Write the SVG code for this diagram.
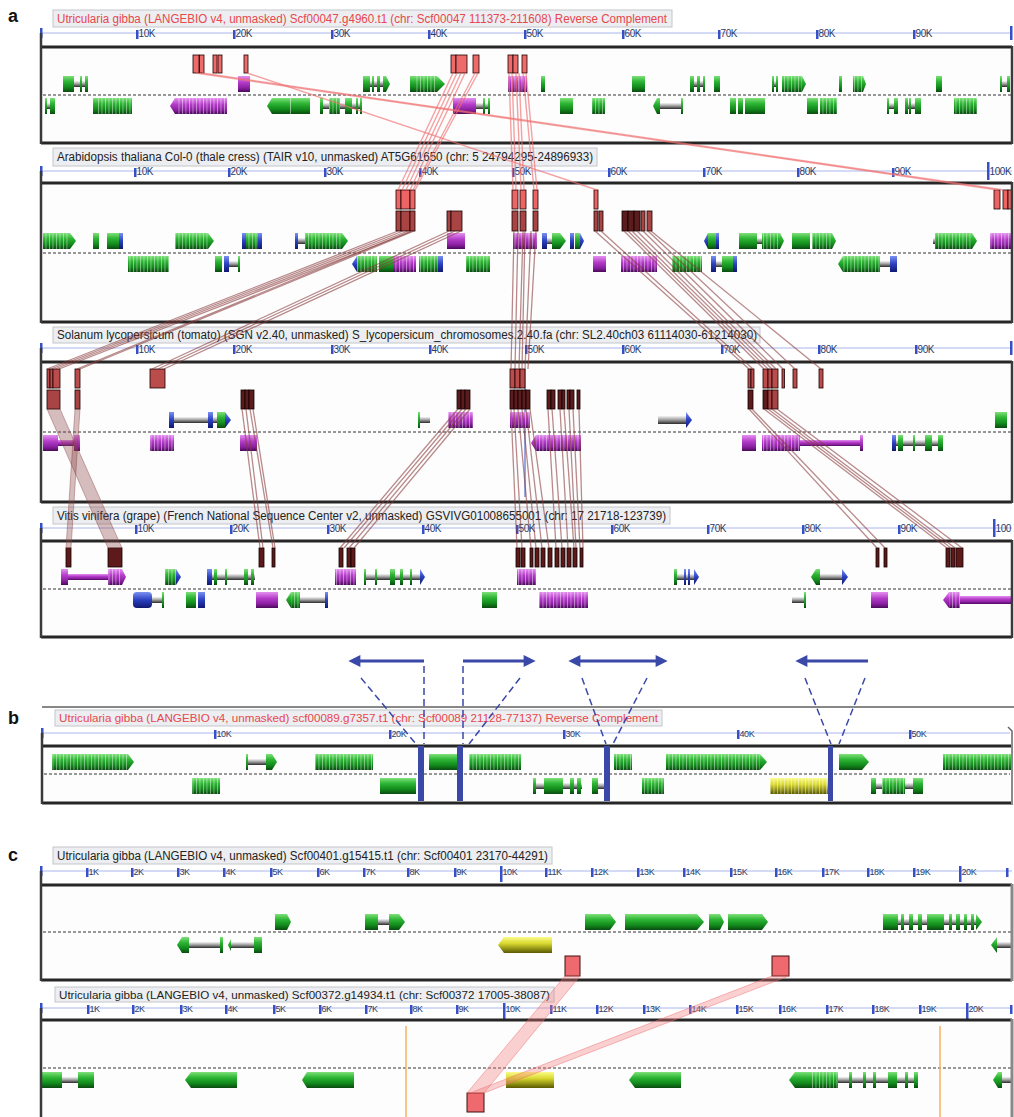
<svg xmlns="http://www.w3.org/2000/svg" width="1014" height="1117" viewBox="0 0 1014 1117">
<style>
text{font-family:"Liberation Sans",Arial,sans-serif}
.pl{font-size:18px;font-weight:bold;fill:#111}
.lbx{fill:#eceef1;stroke:#c4c6ca;stroke-width:1}
.tt{font-size:12px;fill:#222}
.red{fill:#e8474c}
.tl{font-size:10px;fill:#2b3a66;letter-spacing:-0.4px}
.tls{font-size:9px;fill:#2b3a66;letter-spacing:-0.4px}
.rl{stroke:#aab6ee;stroke-width:1}
.tk{fill:#3550c8}
.bg{fill:#fdfdfe}
.dash{stroke:#333;stroke-width:1;stroke-dasharray:3 2}
.bt{stroke:#262626;stroke-width:3}
.bs{stroke:#3a3a3a;stroke-width:2.5}
.e{fill:url(#gG)}
.p{fill:url(#gP)}
.y{fill:url(#gY)}
.b{fill:url(#gB)}
.i{fill:url(#gI)}
.s{fill:url(#sp)}
.h1{fill:#ee6b6b;stroke:#1a0000;stroke-width:.8}
.h2{fill:#ec6464;stroke:#1a0000;stroke-width:.8}
.h3{fill:#a84444;stroke:#1a0000;stroke-width:.8}
.h4{fill:#bb4c4c;stroke:#1a0000;stroke-width:.8}
.h5{fill:#5a1c1c;stroke:#100;stroke-width:.8}
.h6{fill:#5e1a1a;stroke:#100;stroke-width:.8}
.hc{fill:#ef6a6f;stroke:#401010;stroke-width:1}
.pk{stroke:#f07070;stroke-opacity:.65;stroke-width:1.4;fill:none}
.mr{stroke:#8a3c3c;stroke-opacity:.6;stroke-width:1.3;fill:none}
.band{fill:#8a4545;fill-opacity:.35;stroke:#8a3c3c;stroke-opacity:.5;stroke-width:.8}
.pband{fill:#f07878;fill-opacity:.35;stroke:#f07070;stroke-opacity:.6;stroke-width:.8}
.bl{stroke:#3a48a8;stroke-width:3;fill:none}
.bd{stroke:#3a48a8;stroke-width:1.5;stroke-dasharray:7 4;fill:none}
.bar{fill:#3a48a8}
.or{stroke:#f8b060;stroke-width:1.5}
</style>
<defs>
<linearGradient id="gG" x1="0" y1="0" x2="0" y2="1"><stop offset="0" stop-color="#7fe07a"/><stop offset=".35" stop-color="#2db534"/><stop offset=".7" stop-color="#128a1c"/><stop offset="1" stop-color="#0a4a10"/></linearGradient>
<linearGradient id="gP" x1="0" y1="0" x2="0" y2="1"><stop offset="0" stop-color="#e490f0"/><stop offset=".4" stop-color="#b43cc8"/><stop offset=".75" stop-color="#8a1fa0"/><stop offset="1" stop-color="#4a0a5a"/></linearGradient>
<linearGradient id="gY" x1="0" y1="0" x2="0" y2="1"><stop offset="0" stop-color="#fbfb8a"/><stop offset=".4" stop-color="#d8d830"/><stop offset="1" stop-color="#5a5a00"/></linearGradient>
<linearGradient id="gB" x1="0" y1="0" x2="0" y2="1"><stop offset="0" stop-color="#7a90f0"/><stop offset=".5" stop-color="#2a40c0"/><stop offset="1" stop-color="#101870"/></linearGradient>
<linearGradient id="gI" x1="0" y1="0" x2="0" y2="1"><stop offset="0" stop-color="#f4f4f4"/><stop offset=".5" stop-color="#9a9a9a"/><stop offset="1" stop-color="#2a2a2a"/></linearGradient>
<pattern id="sp" width="3.5" height="20" patternUnits="userSpaceOnUse"><rect width="0.9" height="20" fill="#ffffff" fill-opacity=".45"/></pattern>
<marker id="ah" viewBox="0 0 10 10" refX="2" refY="5" markerWidth="5" markerHeight="4" orient="auto-start-reverse"><path d="M0,0 L10,5 L0,10 z" fill="#3a48a8"/></marker>
</defs>
<rect width="1014" height="1117" fill="#fff"/>
<text class="pl" x="8" y="22">a</text>
<text class="pl" x="8" y="724">b</text>
<text class="pl" x="8" y="861">c</text>

<g id="track-a1">
<rect class="lbx" x="53" y="10" width="619" height="17"/>
<text class="tt red" x="57" y="23" textLength="610" lengthAdjust="spacingAndGlyphs">Utricularia gibba (LANGEBIO v4, unmasked) Scf00047.g4960.t1 (chr: Scf00047 111373-211608) Reverse Complement</text>
<line class="rl" x1="41" y1="33" x2="1012" y2="33"/>
<rect class="tk" x="40" y="28" width="2.5" height="10"/><rect class="tk" x="1010" y="26" width="2.5" height="14"/>
<rect class="tk" x="136" y="30" width="2.5" height="9"/><text class="tl" x="138.5" y="37">10K</text>
<rect class="tk" x="233" y="30" width="2.5" height="9"/><text class="tl" x="235.5" y="37">20K</text>
<rect class="tk" x="331" y="30" width="2.5" height="9"/><text class="tl" x="333.5" y="37">30K</text>
<rect class="tk" x="428" y="30" width="2.5" height="9"/><text class="tl" x="430.5" y="37">40K</text>
<rect class="tk" x="524" y="30" width="2.5" height="9"/><text class="tl" x="526.5" y="37">50K</text>
<rect class="tk" x="622" y="30" width="2.5" height="9"/><text class="tl" x="624.5" y="37">60K</text>
<rect class="tk" x="718" y="30" width="2.5" height="9"/><text class="tl" x="720.5" y="37">70K</text>
<rect class="tk" x="816" y="30" width="2.5" height="9"/><text class="tl" x="818.5" y="37">80K</text>
<rect class="tk" x="913" y="30" width="2.5" height="9"/><text class="tl" x="915.5" y="37">90K</text>
<rect class="bg" x="41" y="47" width="971" height="96"/>
<line class="dash" x1="43" y1="95" x2="1011" y2="95"/>
<rect class="i" x="63" y="81" width="25" height="6"/><rect class="e" x="63" y="76" width="11" height="16"/><rect class="e" x="80" y="76" width="2" height="16"/><rect class="e" x="85" y="76" width="3" height="16"/>
<rect class="p" x="238" y="76" width="12" height="16"/>
<rect class="i" x="363" y="81" width="25" height="6"/><rect class="e" x="363" y="76" width="7" height="16"/><rect class="e" x="372" y="76" width="2" height="16"/><rect class="e" x="377" y="76" width="3" height="16"/><rect class="e" x="383" y="76" width="3" height="16"/><polygon class="e" points="386,76 390,84 386,92"/>
<rect class="e" x="410" y="76" width="27" height="16"/><rect class="s" x="416" y="76" width="21" height="16"/><polygon class="e" points="437,76 445,84 437,92"/>
<rect class="p" x="508" y="76" width="19" height="16"/><rect class="s" x="508" y="76" width="19" height="16"/>
<rect class="e" x="541" y="76" width="4" height="16"/>
<rect class="e" x="632" y="76" width="13" height="16"/>
<rect class="i" x="690" y="81" width="15" height="6"/><rect class="e" x="690" y="76" width="4" height="16"/><rect class="e" x="697" y="76" width="3" height="16"/><rect class="e" x="703" y="76" width="2" height="16"/>
<rect class="e" x="714" y="76" width="6" height="16"/>
<rect class="i" x="772" y="81" width="6" height="6"/><rect class="e" x="772" y="76" width="2" height="16"/><rect class="e" x="776" y="76" width="2" height="16"/>
<rect class="e" x="782" y="76" width="20" height="16"/><rect class="s" x="782" y="76" width="20" height="16"/><polygon class="e" points="802,76 806,84 802,92"/>
<rect class="e" x="839" y="76" width="3" height="16"/>
<rect class="e" x="853" y="76" width="10" height="16"/><rect class="s" x="853" y="76" width="10" height="16"/><polygon class="e" points="863,76 866,84 863,92"/>
<rect class="e" x="936" y="76" width="6" height="16"/>
<rect class="i" x="1000" y="81" width="10" height="6"/><rect class="e" x="1000" y="76" width="2" height="16"/><rect class="e" x="1007" y="76" width="3" height="16"/>
<rect class="i" x="45" y="103" width="10" height="6"/><rect class="e" x="45" y="98" width="2" height="16"/><rect class="e" x="50" y="98" width="5" height="16"/>
<rect class="e" x="93" y="98" width="39" height="16"/><rect class="s" x="97" y="98" width="35" height="16"/>
<polygon class="p" points="170,106 175,98 175,114"/><rect class="p" x="175" y="98" width="52" height="16"/><rect class="s" x="178" y="98" width="49" height="16"/>
<polygon class="e" points="267,106 272,98 272,114"/><rect class="e" x="272" y="98" width="38" height="16"/><rect x="290" y="98" width="1" height="16" fill="#fff" fill-opacity=".5"/>
<rect class="i" x="320" y="103" width="42" height="6"/><rect class="e" x="320" y="98" width="3" height="16"/><rect class="e" x="329" y="98" width="11" height="16"/><rect class="s" x="329" y="98" width="11" height="16"/><rect class="e" x="345" y="98" width="7" height="16"/><rect class="e" x="356" y="98" width="2" height="16"/><rect class="e" x="360" y="98" width="2" height="16"/>
<rect class="p" x="453" y="98" width="23" height="16"/><rect class="i" x="476" y="103" width="14" height="6"/><rect class="e" x="483" y="98" width="2" height="16"/><rect class="e" x="488" y="98" width="2" height="16"/>
<rect class="e" x="560" y="98" width="13" height="16"/>
<rect class="e" x="592" y="98" width="13" height="16"/><rect class="s" x="592" y="98" width="13" height="16"/>
<rect class="i" x="656" y="103" width="27" height="6"/><polygon class="e" points="653,106 657,98 657,114"/><rect class="e" x="657" y="98" width="3" height="16"/><rect class="e" x="681" y="98" width="2" height="16"/>
<rect class="e" x="730" y="98" width="6" height="16"/><rect class="e" x="738" y="98" width="5" height="16"/>
<rect class="e" x="745" y="98" width="20" height="16"/>
<rect class="e" x="807" y="98" width="11" height="16"/><rect class="e" x="820" y="98" width="17" height="16"/><rect class="s" x="820" y="98" width="17" height="16"/>
<rect class="i" x="887" y="103" width="11" height="6"/><rect class="e" x="887" y="98" width="2" height="16"/><rect class="e" x="894" y="98" width="4" height="16"/>
<rect class="i" x="905" y="103" width="16" height="6"/><rect class="e" x="905" y="98" width="3" height="16"/><rect class="e" x="909" y="98" width="2" height="16"/><rect class="e" x="915" y="98" width="6" height="16"/>
<rect class="e" x="954" y="98" width="23" height="16"/><rect class="s" x="954" y="98" width="23" height="16"/>
<rect class="h1" x="193" y="55" width="6" height="18"/><rect class="h1" x="199.5" y="55" width="4.5" height="18"/><rect class="h1" x="213" y="55" width="4" height="18"/><rect class="h1" x="218" y="55" width="4" height="18"/><rect class="h1" x="244" y="55" width="4" height="18"/>
<rect class="h1" x="451" y="55" width="5" height="18"/><rect class="h1" x="456" y="55" width="11" height="18"/><rect class="h1" x="473" y="55" width="6" height="18"/>
<rect class="h1" x="508" y="55" width="5" height="18"/><rect class="h1" x="513" y="55" width="5" height="18"/><rect class="h1" x="522" y="55" width="5" height="18"/>
<line class="bt" x1="41" y1="47" x2="1012" y2="47"/><line class="bt" x1="41" y1="143" x2="1012" y2="143"/>
<line class="bs" x1="41" y1="33" x2="41" y2="144"/><line class="bs" x1="1012" y1="46" x2="1012" y2="144"/>
</g>

<g id="track-a2">
<rect class="lbx" x="53" y="148" width="544" height="18"/>
<text class="tt" x="57" y="161" textLength="536" lengthAdjust="spacingAndGlyphs">Arabidopsis thaliana Col-0 (thale cress) (TAIR v10, unmasked) AT5G61650 (chr: 5 24794295-24896933)</text>
<line class="rl" x1="41" y1="171" x2="1012" y2="171"/>
<rect class="tk" x="40" y="166" width="2.5" height="10"/>
<rect class="tk" x="134" y="168" width="2.5" height="9"/><text class="tl" x="136.5" y="175">10K</text>
<rect class="tk" x="228" y="168" width="2.5" height="9"/><text class="tl" x="230.5" y="175">20K</text>
<rect class="tk" x="324" y="168" width="2.5" height="9"/><text class="tl" x="326.5" y="175">30K</text>
<rect class="tk" x="419" y="168" width="2.5" height="9"/><text class="tl" x="421.5" y="175">40K</text>
<rect class="tk" x="512" y="168" width="2.5" height="9"/><text class="tl" x="514.5" y="175">50K</text>
<rect class="tk" x="608" y="168" width="2.5" height="9"/><text class="tl" x="610.5" y="175">60K</text>
<rect class="tk" x="703" y="168" width="2.5" height="9"/><text class="tl" x="705.5" y="175">70K</text>
<rect class="tk" x="797" y="168" width="2.5" height="9"/><text class="tl" x="799.5" y="175">80K</text>
<rect class="tk" x="892" y="168" width="2.5" height="9"/><text class="tl" x="894.5" y="175">90K</text>
<rect class="tk" x="987" y="162" width="2.5" height="18"/><text class="tl" x="989.5" y="175">100K</text>
<rect class="bg" x="41" y="183" width="971" height="139"/>
<line class="dash" x1="43" y1="253" x2="1011" y2="253"/>
<rect class="e" x="43" y="233" width="27" height="16"/><rect class="s" x="43" y="233" width="27" height="16"/><polygon class="e" points="70,233 76,241 70,249"/>
<rect class="e" x="93" y="233" width="6" height="16"/>
<rect class="e" x="107" y="233" width="12" height="16"/><rect class="b" x="119" y="233" width="4" height="16"/>
<rect class="e" x="175" y="233" width="33" height="16"/><rect class="s" x="175" y="233" width="33" height="16"/><polygon class="e" points="208,233 214,241 208,249"/>
<rect class="b" x="242" y="233" width="4" height="16"/><rect class="e" x="246" y="233" width="12" height="16"/><rect class="s" x="246" y="233" width="12" height="16"/><rect class="b" x="258" y="233" width="4" height="16"/>
<rect class="b" x="295" y="233" width="3" height="16"/><rect class="i" x="298" y="238" width="8" height="6"/><rect class="e" x="305" y="233" width="37" height="16"/><rect class="s" x="305" y="233" width="37" height="16"/><polygon class="e" points="342,233 348,241 342,249"/>
<rect class="p" x="447" y="233" width="18" height="16"/>
<rect class="p" x="513" y="233" width="24" height="16"/><rect class="s" x="513" y="233" width="24" height="16"/>
<rect class="i" x="542" y="238" width="20" height="6"/><rect class="b" x="542" y="233" width="5" height="16"/><rect class="e" x="552" y="233" width="8" height="16"/><polygon class="e" points="560,233 566,241 560,249"/>
<rect class="b" x="570" y="233" width="4" height="16"/><rect class="e" x="575" y="233" width="5" height="16"/><polygon class="b" points="580,233 584,241 580,249"/>
<polygon class="b" points="704,241 708,233 708,249"/><rect class="e" x="708" y="233" width="8" height="16"/><rect class="b" x="716" y="233" width="3" height="16"/>
<rect class="e" x="739" y="233" width="18" height="16"/><rect class="i" x="757" y="238" width="24" height="6"/><rect class="e" x="762" y="233" width="18" height="16"/><rect class="s" x="762" y="233" width="18" height="16"/><polygon class="e" points="780,233 784,241 780,249"/>
<rect class="e" x="792" y="233" width="18" height="16"/><rect class="e" x="812" y="233" width="20" height="16"/><rect class="s" x="812" y="233" width="20" height="16"/><polygon class="e" points="832,233 836,241 832,249"/>
<rect class="i" x="933" y="238" width="40" height="6"/><rect class="e" x="935" y="233" width="37" height="16"/><rect class="s" x="935" y="233" width="37" height="16"/><polygon class="e" points="972,233 977,241 972,249"/>
<rect class="p" x="990" y="233" width="22" height="16"/><rect class="s" x="990" y="233" width="22" height="16"/>
<rect class="e" x="128" y="256" width="41" height="16"/><rect class="s" x="128" y="256" width="41" height="16"/>
<rect class="e" x="215" y="256" width="7" height="16"/><rect class="b" x="224" y="256" width="5" height="16"/><rect class="i" x="229" y="261" width="11" height="6"/><rect class="e" x="238" y="256" width="2" height="16"/>
<polygon class="b" points="352,264 357,256 357,272"/><rect class="e" x="357" y="256" width="20" height="16"/><rect class="s" x="357" y="256" width="20" height="16"/>
<rect class="e" x="379" y="256" width="14" height="16"/>
<rect class="p" x="393" y="256" width="23" height="16"/><rect class="s" x="393" y="256" width="23" height="16"/>
<rect class="e" x="419" y="256" width="19" height="16"/><rect class="s" x="419" y="256" width="19" height="16"/><rect class="b" x="438" y="256" width="5" height="16"/>
<rect class="e" x="466" y="256" width="24" height="16"/><rect class="s" x="466" y="256" width="24" height="16"/>
<rect class="p" x="593" y="256" width="13" height="16"/>
<rect class="p" x="621" y="256" width="36" height="16"/><rect class="s" x="621" y="256" width="36" height="16"/>
<rect class="e" x="672" y="256" width="30" height="16"/><rect class="s" x="672" y="256" width="30" height="16"/>
<rect class="b" x="711" y="256" width="5" height="16"/><rect class="i" x="716" y="261" width="6" height="6"/><rect class="e" x="722" y="256" width="11" height="16"/><rect class="b" x="733" y="256" width="4" height="16"/>
<polygon class="e" points="838,264 843,256 843,272"/><rect class="e" x="843" y="256" width="37" height="16"/><rect class="s" x="843" y="256" width="37" height="16"/><rect class="i" x="880" y="261" width="12" height="6"/><rect class="b" x="890" y="256" width="7" height="16"/>
<rect class="h2" x="396" y="190" width="5" height="19"/><rect class="h2" x="401" y="190" width="9" height="19"/><rect class="h2" x="410" y="190" width="5" height="19"/>
<rect class="h2" x="512" y="190" width="6" height="19"/><rect class="h2" x="520" y="190" width="6" height="19"/><rect class="h2" x="533" y="190" width="5" height="19"/>
<rect class="h2" x="594" y="190" width="4" height="19"/>
<rect class="h2" x="994" y="190" width="6" height="19"/><rect class="h2" x="1003" y="190" width="5" height="19"/><rect class="h2" x="1008" y="190" width="4" height="19"/>
<rect class="h3" x="396" y="211" width="5" height="20"/><rect class="h3" x="401" y="211" width="9" height="20"/><rect class="h3" x="410" y="211" width="5" height="20"/>
<rect class="h3" x="447" y="211" width="4" height="20"/><rect class="h3" x="451" y="211" width="11" height="20"/>
<rect class="h3" x="512" y="211" width="6" height="20"/><rect class="h3" x="520" y="211" width="6" height="20"/><rect class="h3" x="533" y="211" width="5" height="20"/>
<rect class="h3" x="594" y="211" width="4" height="20"/><rect class="h3" x="599" y="211" width="4" height="20"/>
<rect class="h5" x="622" y="211" width="6" height="20"/><rect class="h5" x="628" y="211" width="6" height="20"/><rect class="h5" x="634" y="211" width="6" height="20"/><rect class="h3" x="641" y="211" width="4" height="20"/><rect class="h3" x="647" y="211" width="5" height="20"/>
<line class="bt" x1="41" y1="183" x2="1012" y2="183"/><line class="bt" x1="41" y1="322" x2="1012" y2="322"/>
<line class="bs" x1="41" y1="171" x2="41" y2="323"/><line class="bs" x1="1012" y1="182" x2="1012" y2="323"/>
</g>

<g id="track-a3">
<rect class="lbx" x="53" y="327" width="707" height="16"/>
<text class="tt" x="57" y="339" textLength="700" lengthAdjust="spacingAndGlyphs">Solanum lycopersicum (tomato) (SGN v2.40, unmasked) S_lycopersicum_chromosomes.2.40.fa (chr: SL2.40ch03 61114030-61214030)</text>
<line class="rl" x1="41" y1="348" x2="1012" y2="348"/>
<rect class="tk" x="40" y="343" width="2.5" height="10"/><rect class="tk" x="1010" y="341" width="2.5" height="14"/>
<rect class="tk" x="136" y="345" width="2.5" height="9"/><text class="tl" x="138.5" y="353">10K</text>
<rect class="tk" x="233" y="345" width="2.5" height="9"/><text class="tl" x="235.5" y="353">20K</text>
<rect class="tk" x="331" y="345" width="2.5" height="9"/><text class="tl" x="333.5" y="353">30K</text>
<rect class="tk" x="429" y="345" width="2.5" height="9"/><text class="tl" x="431.5" y="353">40K</text>
<rect class="tk" x="525" y="345" width="2.5" height="9"/><text class="tl" x="527.5" y="353">50K</text>
<rect class="tk" x="622" y="345" width="2.5" height="9"/><text class="tl" x="624.5" y="353">60K</text>
<rect class="tk" x="721" y="345" width="2.5" height="9"/><text class="tl" x="723.5" y="353">70K</text>
<rect class="tk" x="818" y="345" width="2.5" height="9"/><text class="tl" x="820.5" y="353">80K</text>
<rect class="tk" x="915" y="345" width="2.5" height="9"/><text class="tl" x="917.5" y="353">90K</text>
<rect class="bg" x="41" y="362" width="971" height="140"/>
<line class="dash" x1="43" y1="432" x2="1011" y2="432"/>
<line x1="525" y1="369" x2="525" y2="497" stroke="#3550c8" stroke-width="1"/>
<rect class="i" x="172" y="417" width="46" height="6"/><rect class="b" x="169" y="412" width="5" height="16"/><rect class="b" x="208" y="412" width="5" height="16"/><rect class="e" x="217" y="412" width="8" height="16"/><polygon class="b" points="225,412 231,420 225,428"/>
<rect class="e" x="418" y="412" width="2" height="16"/><rect class="i" x="420" y="417" width="10" height="6"/>
<rect class="p" x="448" y="412" width="25" height="16"/><rect class="s" x="448" y="412" width="25" height="16"/>
<rect class="p" x="510" y="412" width="20" height="16"/><rect class="s" x="510" y="412" width="20" height="16"/>
<rect class="i" x="658" y="416" width="28" height="8"/><polygon class="b" points="686,412 692,420 686,428"/>
<rect class="e" x="995" y="412" width="12" height="16"/>
<rect class="p" x="43" y="435" width="15" height="16"/><rect class="p" x="58" y="440" width="17" height="6"/><rect class="p" x="74" y="435" width="6" height="16"/>
<rect class="p" x="150" y="435" width="24" height="16"/><rect class="s" x="150" y="435" width="24" height="16"/>
<rect class="p" x="240" y="435" width="17" height="16"/>
<polygon class="p" points="531,443 536,435 536,451"/><rect class="p" x="536" y="435" width="45" height="16"/><rect class="s" x="536" y="435" width="45" height="16"/>
<rect class="p" x="742" y="435" width="14" height="16"/>
<rect class="p" x="762" y="435" width="38" height="16"/><rect class="s" x="762" y="435" width="38" height="16"/><rect class="p" x="800" y="440" width="62" height="6"/><rect class="p" x="860" y="435" width="3" height="16"/>
<rect class="i" x="892" y="440" width="51" height="6"/><rect class="b" x="892" y="435" width="4" height="16"/><rect class="e" x="898" y="435" width="5" height="16"/><rect class="e" x="913" y="435" width="2" height="16"/><rect class="e" x="925" y="435" width="7" height="16"/><rect class="e" x="938" y="435" width="5" height="16"/>
<rect class="h4" x="47" y="369" width="3" height="19"/><rect class="h4" x="50" y="369" width="3" height="19"/><rect class="h4" x="53" y="369" width="7" height="19"/><rect class="h4" x="75" y="369" width="5" height="19"/><rect class="h4" x="150" y="369" width="15" height="19"/>
<rect class="h4" x="510" y="369" width="5" height="19"/><rect class="h4" x="515" y="369" width="5" height="19"/><rect class="h4" x="520" y="369" width="5" height="19"/>
<rect class="h4" x="748" y="369" width="3" height="19"/><rect class="h4" x="751" y="369" width="3" height="19"/><rect class="h4" x="763" y="369" width="5" height="19"/><rect class="h4" x="768" y="369" width="4" height="19"/><rect class="h4" x="772" y="369" width="6" height="19"/><rect class="h4" x="782" y="369" width="2.5" height="19"/><rect class="h4" x="793" y="369" width="4" height="19"/><rect class="h4" x="819" y="369" width="4" height="19"/>
<rect class="h3" x="47" y="390" width="13" height="19"/><rect class="h3" x="75" y="390" width="5" height="19"/>
<rect class="h5" x="241" y="390" width="4" height="19"/><rect class="h5" x="245" y="390" width="4" height="19"/><rect class="h5" x="249" y="390" width="5" height="19"/>
<rect class="h5" x="457" y="390" width="4" height="19"/><rect class="h5" x="461" y="390" width="4" height="19"/><rect class="h5" x="465" y="390" width="5" height="19"/>
<rect class="h5" x="510" y="390" width="4" height="19"/><rect class="h5" x="514" y="390" width="4" height="19"/><rect class="h5" x="518" y="390" width="4" height="19"/><rect class="h5" x="522" y="390" width="4" height="19"/><rect class="h5" x="526" y="390" width="4" height="19"/>
<rect class="h5" x="547" y="390" width="4" height="19"/><rect class="h5" x="551" y="390" width="4" height="19"/><rect class="h5" x="558" y="390" width="4" height="19"/><rect class="h5" x="562" y="390" width="3" height="19"/><rect class="h5" x="567" y="390" width="3" height="19"/><rect class="h5" x="570" y="390" width="4" height="19"/><rect class="h5" x="577" y="390" width="3" height="19"/>
<rect class="h5" x="748" y="390" width="5" height="19"/><rect class="h5" x="763" y="390" width="5" height="19"/><rect class="h3" x="768" y="390" width="4" height="19"/><rect class="h3" x="772" y="390" width="6" height="19"/>
<line class="bt" x1="41" y1="362" x2="1012" y2="362"/><line class="bt" x1="41" y1="502" x2="1012" y2="502"/>
<line class="bs" x1="41" y1="348" x2="41" y2="503"/><line class="bs" x1="1012" y1="361" x2="1012" y2="503"/>
</g>

<g id="track-a4">
<rect class="lbx" x="53" y="507" width="617" height="17"/>
<text class="tt" x="57" y="520" textLength="609" lengthAdjust="spacingAndGlyphs">Vitis vinifera (grape) (French National Sequence Center v2, unmasked) GSVIVG01008655001 (chr: 17 21718-123739)</text>
<line class="rl" x1="41" y1="528" x2="1012" y2="528"/>
<rect class="tk" x="40" y="523" width="2.5" height="10"/>
<rect class="tk" x="135" y="525" width="2.5" height="9"/><text class="tl" x="137.5" y="532">10K</text>
<rect class="tk" x="230" y="525" width="2.5" height="9"/><text class="tl" x="232.5" y="532">20K</text>
<rect class="tk" x="327" y="525" width="2.5" height="9"/><text class="tl" x="329.5" y="532">30K</text>
<rect class="tk" x="422" y="525" width="2.5" height="9"/><text class="tl" x="424.5" y="532">40K</text>
<rect class="tk" x="516" y="525" width="2.5" height="9"/><text class="tl" x="518.5" y="532">50K</text>
<rect class="tk" x="611" y="525" width="2.5" height="9"/><text class="tl" x="613.5" y="532">60K</text>
<rect class="tk" x="707" y="525" width="2.5" height="9"/><text class="tl" x="709.5" y="532">70K</text>
<rect class="tk" x="802" y="525" width="2.5" height="9"/><text class="tl" x="804.5" y="532">80K</text>
<rect class="tk" x="898" y="525" width="2.5" height="9"/><text class="tl" x="900.5" y="532">90K</text>
<rect class="tk" x="993" y="519" width="2.5" height="18"/><text class="tl" x="995.5" y="532">100</text>
<rect class="bg" x="41" y="541" width="971" height="96"/>
<line class="dash" x1="43" y1="589" x2="1011" y2="589"/>
<rect class="p" x="61" y="569" width="7" height="16"/><rect class="p" x="68" y="574" width="40" height="6"/><rect class="p" x="108" y="569" width="14" height="16"/><rect class="s" x="108" y="569" width="14" height="16"/><polygon class="p" points="122,569 126,577 122,585"/>
<rect class="e" x="165" y="569" width="11" height="16"/><rect class="s" x="165" y="569" width="11" height="16"/><polygon class="b" points="176,569 181,577 176,585"/>
<rect class="i" x="207" y="574" width="48" height="6"/><rect class="b" x="207" y="569" width="5" height="16"/><rect class="e" x="214" y="569" width="3" height="16"/><rect class="e" x="225" y="569" width="2" height="16"/><rect class="e" x="244" y="569" width="4" height="16"/><rect class="e" x="251" y="569" width="3" height="16"/>
<rect class="p" x="335" y="569" width="21" height="16"/><rect class="s" x="335" y="569" width="21" height="16"/>
<rect class="i" x="364" y="574" width="57" height="6"/><rect class="e" x="364" y="569" width="2" height="16"/><rect class="e" x="375" y="569" width="2" height="16"/><rect class="e" x="390" y="569" width="5" height="16"/><rect class="e" x="400" y="569" width="3" height="16"/><rect class="e" x="410" y="569" width="2" height="16"/><polygon class="b" points="420,569 425,577 420,585"/>
<rect class="p" x="517" y="569" width="19" height="16"/><rect class="s" x="517" y="569" width="19" height="16"/>
<rect class="i" x="674" y="574" width="21" height="6"/><rect class="e" x="674" y="569" width="3" height="16"/><rect class="b" x="684" y="569" width="2" height="16"/><rect class="b" x="688" y="569" width="2" height="16"/><polygon class="b" points="694,569 699,577 694,585"/>
<polygon class="e" points="811,577 816,569 816,585"/><rect class="e" x="816" y="569" width="4" height="16"/><rect class="i" x="820" y="574" width="22" height="6"/><polygon class="b" points="842,569 848,577 842,585"/>
<rect class="b" x="133" y="592" width="19" height="16" rx="4"/><rect class="i" x="152" y="597" width="12" height="6"/><rect class="e" x="162" y="592" width="2" height="16"/>
<rect class="e" x="186" y="592" width="10" height="16"/><rect class="b" x="198" y="592" width="7" height="16"/>
<rect class="p" x="256" y="592" width="22" height="16"/>
<polygon class="e" points="286,600 291,592 291,608"/><rect class="e" x="291" y="592" width="9" height="16"/><rect class="s" x="291" y="592" width="9" height="16"/><rect class="i" x="300" y="597" width="25" height="6"/><rect class="b" x="325" y="592" width="3" height="16"/>
<rect class="e" x="482" y="592" width="15" height="16"/>
<rect class="p" x="539" y="592" width="49" height="16"/><rect class="s" x="539" y="592" width="49" height="16"/>
<rect class="i" x="792" y="597" width="12" height="6"/><rect class="e" x="804" y="592" width="2" height="16"/>
<rect class="p" x="871" y="592" width="17" height="16"/>
<polygon class="p" points="943,600 949,592 949,608"/><rect class="p" x="949" y="592" width="11" height="16"/><rect class="s" x="949" y="592" width="11" height="16"/><rect class="p" x="960" y="596" width="52" height="8"/>
<rect class="h6" x="66" y="548" width="5" height="19"/><rect class="h6" x="108" y="548" width="14" height="19"/>
<rect class="h6" x="259" y="548" width="5" height="19"/><rect class="h6" x="272" y="548" width="3" height="19"/>
<rect class="h6" x="339" y="548" width="4" height="19"/><rect class="h6" x="347" y="548" width="4" height="19"/><rect class="h6" x="351" y="548" width="4" height="19"/>
<rect class="h6" x="516" y="548" width="4" height="19"/><rect class="h6" x="521" y="548" width="4" height="19"/><rect class="h6" x="530" y="548" width="3" height="19"/><rect class="h6" x="535" y="548" width="4" height="19"/><rect class="h6" x="541" y="548" width="4" height="19"/><rect class="h6" x="548" y="548" width="4" height="19"/><rect class="h6" x="555" y="548" width="4" height="19"/><rect class="h6" x="561" y="548" width="4" height="19"/><rect class="h6" x="567" y="548" width="4" height="19"/><rect class="h6" x="573" y="548" width="4" height="19"/><rect class="h6" x="580" y="548" width="3" height="19"/>
<rect class="h6" x="876" y="548" width="3" height="19"/><rect class="h6" x="884" y="548" width="3" height="19"/>
<rect class="h6" x="946" y="548" width="4" height="19"/><rect class="h6" x="951" y="548" width="4" height="19"/><rect class="h6" x="956" y="548" width="7" height="19"/>
<line class="bt" x1="41" y1="541" x2="1012" y2="541"/><line class="bt" x1="41" y1="637" x2="1012" y2="637"/>
<line class="bs" x1="41" y1="528" x2="41" y2="638"/><line class="bs" x1="1012" y1="540" x2="1012" y2="638"/>
</g>

<g id="track-b">
<line x1="42" y1="707" x2="1014" y2="707" stroke="#111" stroke-width="1"/>
<rect class="lbx" x="55" y="710" width="607" height="16"/>
<text class="tt red" x="59" y="722" style="font-size:10.5px" textLength="599" lengthAdjust="spacingAndGlyphs">Utricularia gibba (LANGEBIO v4, unmasked) scf00089.g7357.t1 (chr: Scf00089 21128-77137) Reverse Complement</text>
<line class="rl" x1="42" y1="733" x2="1010" y2="733"/>
<rect class="tk" x="41" y="728" width="2.5" height="10"/>
<rect class="tk" x="214" y="730" width="2.5" height="9"/><text class="tls" x="216.5" y="737">10K</text>
<rect class="tk" x="389" y="730" width="2.5" height="9"/><text class="tls" x="391.5" y="737">20K</text>
<rect class="tk" x="563" y="730" width="2.5" height="9"/><text class="tls" x="565.5" y="737">30K</text>
<rect class="tk" x="737" y="730" width="2.5" height="9"/><text class="tls" x="739.5" y="737">40K</text>
<rect class="tk" x="909" y="730" width="2.5" height="9"/><text class="tls" x="911.5" y="737">50K</text>
<path d="M1008,727 L1012,731 L1012,805" fill="none" stroke="#666" stroke-width="1.5"/>
<rect class="bg" x="42" y="746" width="969" height="57"/>
<line class="dash" x1="44" y1="774" x2="1010" y2="774"/>
<rect class="e" x="52" y="754" width="76" height="16"/><rect class="s" x="52" y="754" width="76" height="16"/><polygon class="e" points="128,754 134,762 128,770"/>
<rect class="i" x="246" y="759" width="24" height="6"/><rect class="e" x="246" y="754" width="2" height="16"/><rect class="e" x="266" y="754" width="6" height="16"/><polygon class="e" points="272,754 277,762 272,770"/>
<rect class="i" x="315" y="759" width="58" height="6"/><rect class="e" x="315" y="754" width="58" height="16"/><rect class="s" x="315" y="754" width="58" height="16"/>
<rect class="e" x="429" y="754" width="29" height="16"/>
<rect class="e" x="469" y="754" width="52" height="16"/><rect class="s" x="469" y="754" width="52" height="16"/>
<rect class="e" x="614" y="754" width="18" height="16"/><rect class="s" x="614" y="754" width="18" height="16"/>
<rect class="e" x="666" y="754" width="94" height="16"/><rect class="s" x="666" y="754" width="94" height="16"/><polygon class="e" points="760,754 767,762 760,770"/>
<rect class="e" x="839" y="754" width="23" height="16"/><polygon class="e" points="862,754 869,762 862,770"/>
<rect class="e" x="943" y="754" width="68" height="16"/><rect class="s" x="943" y="754" width="68" height="16"/>
<rect class="e" x="192" y="778" width="28" height="16"/><rect class="s" x="192" y="778" width="28" height="16"/>
<rect class="e" x="380" y="778" width="36" height="16"/>
<rect class="i" x="533" y="783" width="49" height="6"/><rect class="e" x="533" y="778" width="3" height="16"/><rect class="e" x="544" y="778" width="19" height="16"/><rect class="e" x="570" y="778" width="4" height="16"/><rect class="e" x="577" y="778" width="4" height="16"/>
<rect class="e" x="592" y="778" width="6" height="16"/><rect class="i" x="598" y="783" width="6" height="6"/><rect class="e" x="604" y="778" width="4" height="16"/>
<rect class="e" x="642" y="778" width="22" height="16"/><rect class="s" x="642" y="778" width="22" height="16"/>
<rect class="y" x="770" y="778" width="62" height="16"/><rect class="s" x="770" y="778" width="62" height="16"/>
<rect class="i" x="871" y="783" width="52" height="6"/><rect class="e" x="871" y="778" width="5" height="16"/><rect class="e" x="882" y="778" width="23" height="16"/><rect class="s" x="882" y="778" width="23" height="16"/><rect class="e" x="913" y="778" width="10" height="16"/>
<line class="bt" x1="42" y1="746" x2="1011" y2="746"/><line class="bt" x1="42" y1="803" x2="1011" y2="803"/>
<line class="bs" x1="42" y1="733" x2="42" y2="804"/>
<rect class="bar" x="418" y="746" width="6" height="55"/><rect class="bar" x="457" y="746" width="6" height="55"/><rect class="bar" x="604" y="746" width="6" height="55"/><rect class="bar" x="828" y="746" width="5" height="55"/>
</g>

<g id="track-c1">
<rect class="lbx" x="53" y="847" width="499" height="17"/>
<text class="tt" x="57" y="860" textLength="491" lengthAdjust="spacingAndGlyphs">Utricularia gibba (LANGEBIO v4, unmasked) Scf00401.g15415.t1 (chr: Scf00401 23170-44291)</text>
<line class="rl" x1="41" y1="871" x2="1012" y2="871"/>
<rect class="tk" x="40" y="866" width="2.5" height="10"/>
<rect class="tk" x="86" y="868" width="2.5" height="9"/><text class="tls" x="88.5" y="875">1K</text>
<rect class="tk" x="131" y="868" width="2.5" height="9"/><text class="tls" x="133.5" y="875">2K</text>
<rect class="tk" x="177" y="868" width="2.5" height="9"/><text class="tls" x="179.5" y="875">3K</text>
<rect class="tk" x="223" y="868" width="2.5" height="9"/><text class="tls" x="225.5" y="875">4K</text>
<rect class="tk" x="270" y="868" width="2.5" height="9"/><text class="tls" x="272.5" y="875">5K</text>
<rect class="tk" x="317" y="868" width="2.5" height="9"/><text class="tls" x="319.5" y="875">6K</text>
<rect class="tk" x="363" y="868" width="2.5" height="9"/><text class="tls" x="365.5" y="875">7K</text>
<rect class="tk" x="407" y="868" width="2.5" height="9"/><text class="tls" x="409.5" y="875">8K</text>
<rect class="tk" x="454" y="868" width="2.5" height="9"/><text class="tls" x="456.5" y="875">9K</text>
<rect class="tk" x="500" y="866" width="2.5" height="16"/><text class="tls" x="502.5" y="875">10K</text>
<rect class="tk" x="545" y="868" width="2.5" height="9"/><text class="tls" x="547.5" y="875">11K</text>
<rect class="tk" x="591" y="868" width="2.5" height="9"/><text class="tls" x="593.5" y="875">12K</text>
<rect class="tk" x="637" y="868" width="2.5" height="9"/><text class="tls" x="639.5" y="875">13K</text>
<rect class="tk" x="683" y="868" width="2.5" height="9"/><text class="tls" x="685.5" y="875">14K</text>
<rect class="tk" x="730" y="868" width="2.5" height="9"/><text class="tls" x="732.5" y="875">15K</text>
<rect class="tk" x="775" y="868" width="2.5" height="9"/><text class="tls" x="777.5" y="875">16K</text>
<rect class="tk" x="822" y="868" width="2.5" height="9"/><text class="tls" x="824.5" y="875">17K</text>
<rect class="tk" x="867" y="868" width="2.5" height="9"/><text class="tls" x="869.5" y="875">18K</text>
<rect class="tk" x="913" y="868" width="2.5" height="9"/><text class="tls" x="915.5" y="875">19K</text>
<rect class="tk" x="959" y="866" width="2.5" height="16"/><text class="tls" x="961.5" y="875">20K</text>
<rect class="tk" x="1006" y="868" width="2.5" height="9"/>
<rect class="bg" x="41" y="885" width="971" height="95"/>
<line class="dash" x1="43" y1="932" x2="1011" y2="932"/>
<rect class="e" x="275" y="914" width="12" height="16"/><polygon class="e" points="287,914 291,922 287,930"/>
<rect class="e" x="365" y="914" width="13" height="16"/><rect class="i" x="378" y="919" width="11" height="6"/><rect class="e" x="389" y="914" width="10" height="16"/><polygon class="e" points="399,914 405,922 399,930"/>
<rect class="e" x="585" y="914" width="25" height="16"/><polygon class="e" points="610,914 616,922 610,930"/>
<rect class="e" x="625" y="914" width="72" height="16"/><polygon class="e" points="697,914 704,922 697,930"/>
<rect class="e" x="709" y="914" width="11" height="16"/><polygon class="e" points="720,914 724,922 720,930"/>
<rect class="e" x="728" y="914" width="34" height="16"/><polygon class="e" points="762,914 768,922 762,930"/>
<rect class="i" x="883" y="919" width="95" height="6"/><rect class="e" x="883" y="914" width="15" height="16"/><rect class="e" x="901" y="914" width="3" height="16"/><rect class="e" x="909" y="914" width="4" height="16"/><rect class="e" x="918" y="914" width="4" height="16"/><rect class="e" x="927" y="914" width="17" height="16"/><rect class="e" x="949" y="914" width="3" height="16"/><rect class="e" x="956" y="914" width="4" height="16"/><rect class="e" x="964" y="914" width="3" height="16"/><rect class="e" x="971" y="914" width="3" height="16"/><polygon class="e" points="976,914 982,922 976,930"/>
<polygon class="e" points="177,945 182,937 182,953"/><rect class="e" x="182" y="937" width="7" height="16"/><rect class="i" x="189" y="942" width="31" height="6"/><rect class="e" x="220" y="937" width="3" height="16"/>
<polygon class="e" points="228,945 231,939 231,951"/><rect class="i" x="231" y="942" width="23" height="6"/><rect class="e" x="254" y="937" width="8" height="16"/>
<polygon class="y" points="498,945 504,937 504,953"/><rect class="y" x="504" y="937" width="48" height="16"/>
<polygon class="e" points="991,945 997,937 997,953"/><rect class="i" x="997" y="942" width="15" height="6"/>
<rect class="hc" x="565" y="956" width="15" height="20"/><rect class="hc" x="772" y="956" width="17" height="20"/>
<line class="bt" x1="41" y1="885" x2="1012" y2="885"/><line class="bt" x1="41" y1="980" x2="1012" y2="980"/>
<line class="bs" x1="41" y1="871" x2="41" y2="981"/><line x1="1012" y1="884" x2="1012" y2="981" stroke="#888" stroke-width="3"/>
</g>

<g id="track-c2">
<rect class="lbx" x="55" y="987" width="499" height="15"/>
<text class="tt" x="59" y="999" style="font-size:10.5px" textLength="491" lengthAdjust="spacingAndGlyphs">Utricularia gibba (LANGEBIO v4, unmasked) Scf00372.g14934.t1 (chr: Scf00372 17005-38087)</text>
<line class="rl" x1="41" y1="1008" x2="1012" y2="1008"/>
<rect class="tk" x="40" y="1003" width="2.5" height="10"/>
<rect class="tk" x="87" y="1005" width="2.5" height="9"/><text class="tls" x="89.5" y="1012">1K</text>
<rect class="tk" x="132" y="1005" width="2.5" height="9"/><text class="tls" x="134.5" y="1012">2K</text>
<rect class="tk" x="180" y="1005" width="2.5" height="9"/><text class="tls" x="182.5" y="1012">3K</text>
<rect class="tk" x="225" y="1005" width="2.5" height="9"/><text class="tls" x="227.5" y="1012">4K</text>
<rect class="tk" x="273" y="1005" width="2.5" height="9"/><text class="tls" x="275.5" y="1012">5K</text>
<rect class="tk" x="319" y="1005" width="2.5" height="9"/><text class="tls" x="321.5" y="1012">6K</text>
<rect class="tk" x="365" y="1005" width="2.5" height="9"/><text class="tls" x="367.5" y="1012">7K</text>
<rect class="tk" x="410" y="1005" width="2.5" height="9"/><text class="tls" x="412.5" y="1012">8K</text>
<rect class="tk" x="456" y="1005" width="2.5" height="9"/><text class="tls" x="458.5" y="1012">9K</text>
<rect class="tk" x="503" y="1003" width="2.5" height="16"/><text class="tls" x="505.5" y="1012">10K</text>
<rect class="tk" x="550" y="1005" width="2.5" height="9"/><text class="tls" x="552.5" y="1012">11K</text>
<rect class="tk" x="596" y="1005" width="2.5" height="9"/><text class="tls" x="598.5" y="1012">12K</text>
<rect class="tk" x="643" y="1005" width="2.5" height="9"/><text class="tls" x="645.5" y="1012">13K</text>
<rect class="tk" x="689" y="1005" width="2.5" height="9"/><text class="tls" x="691.5" y="1012">14K</text>
<rect class="tk" x="736" y="1005" width="2.5" height="9"/><text class="tls" x="738.5" y="1012">15K</text>
<rect class="tk" x="779" y="1005" width="2.5" height="9"/><text class="tls" x="781.5" y="1012">16K</text>
<rect class="tk" x="826" y="1005" width="2.5" height="9"/><text class="tls" x="828.5" y="1012">17K</text>
<rect class="tk" x="872" y="1005" width="2.5" height="9"/><text class="tls" x="874.5" y="1012">18K</text>
<rect class="tk" x="919" y="1005" width="2.5" height="9"/><text class="tls" x="921.5" y="1012">19K</text>
<rect class="tk" x="966" y="1003" width="2.5" height="16"/><text class="tls" x="968.5" y="1012">20K</text>
<rect class="tk" x="1010" y="1005" width="2.5" height="9"/>
<rect class="bg" x="41" y="1020" width="971" height="97"/>
<line class="dash" x1="43" y1="1068" x2="1011" y2="1068"/>
<line class="or" x1="406" y1="1026" x2="406" y2="1117"/><line class="or" x1="940" y1="1026" x2="940" y2="1117"/>
<rect class="e" x="42" y="1072" width="20" height="16"/><rect class="i" x="62" y="1077" width="16" height="6"/><rect class="e" x="78" y="1072" width="16" height="16"/>
<polygon class="e" points="185,1080 191,1072 191,1088"/><rect class="e" x="191" y="1072" width="46" height="16"/>
<polygon class="e" points="302,1080 307,1072 307,1088"/><rect class="e" x="307" y="1072" width="47" height="16"/>
<rect class="y" x="506" y="1072" width="48" height="16"/>
<polygon class="e" points="629,1080 635,1072 635,1088"/><rect class="e" x="635" y="1072" width="46" height="16"/>
<polygon class="e" points="789,1080 795,1072 795,1088"/><rect class="i" x="795" y="1077" width="123" height="6"/><rect class="e" x="795" y="1072" width="43" height="16"/><rect class="s" x="810" y="1072" width="28" height="16"/><rect class="e" x="849" y="1072" width="3" height="16"/><rect class="e" x="863" y="1072" width="3" height="16"/><rect class="e" x="873" y="1072" width="3" height="16"/><rect class="e" x="888" y="1072" width="9" height="16"/><rect class="e" x="905" y="1072" width="3" height="16"/><rect class="e" x="914" y="1072" width="4" height="16"/>
<polygon class="e" points="993,1080 998,1072 998,1088"/><rect class="e" x="998" y="1072" width="4" height="16"/><rect class="i" x="1002" y="1077" width="10" height="6"/>
<rect class="hc" x="467" y="1093" width="17" height="19"/>
<line class="bt" x1="41" y1="1020" x2="1012" y2="1020"/>
<line class="bs" x1="41" y1="1008" x2="41" y2="1117"/><line x1="1012" y1="1019" x2="1012" y2="1117" stroke="#888" stroke-width="3"/>
</g>

<g id="connectors">
<line class="pk" x1="196" y1="73" x2="998" y2="190"/>
<line class="pk" x1="202" y1="73" x2="1004" y2="190"/>
<line class="pk" x1="247" y1="73" x2="597" y2="190"/>
<line class="pk" x1="453" y1="73" x2="398" y2="190"/>
<line class="pk" x1="457" y1="73" x2="402" y2="190"/>
<line class="pk" x1="461" y1="73" x2="406" y2="190"/>
<line class="pk" x1="465" y1="73" x2="410" y2="190"/>
<line class="pk" x1="475" y1="73" x2="413" y2="190"/>
<line class="pk" x1="478" y1="73" x2="415" y2="190"/>
<line class="pk" x1="509" y1="73" x2="513" y2="190"/>
<line class="pk" x1="512" y1="73" x2="516" y2="190"/>
<line class="pk" x1="516" y1="73" x2="521" y2="190"/>
<line class="pk" x1="519" y1="73" x2="524" y2="190"/>
<line class="pk" x1="523" y1="73" x2="534" y2="190"/>
<line class="pk" x1="526" y1="73" x2="537" y2="190"/>
<line class="mr" x1="398" y1="231" x2="47" y2="369"/>
<line class="mr" x1="403" y1="231" x2="51" y2="369"/>
<line class="mr" x1="408" y1="231" x2="55" y2="369"/>
<line class="mr" x1="413" y1="231" x2="59" y2="369"/>
<line class="mr" x1="411" y1="231" x2="77" y2="369"/>
<line class="mr" x1="414" y1="231" x2="80" y2="369"/>
<line class="mr" x1="449" y1="231" x2="152" y2="369"/>
<line class="mr" x1="455" y1="231" x2="158" y2="369"/>
<line class="mr" x1="461" y1="231" x2="164" y2="369"/>
<line class="mr" x1="514" y1="231" x2="511" y2="369"/>
<line class="mr" x1="518" y1="231" x2="515" y2="369"/>
<line class="mr" x1="523" y1="231" x2="519" y2="369"/>
<line class="mr" x1="525" y1="231" x2="522" y2="369"/>
<line class="mr" x1="531" y1="231" x2="525" y2="369"/>
<line class="mr" x1="536" y1="231" x2="528" y2="369"/>
<line class="mr" x1="595" y1="231" x2="749" y2="369"/>
<line class="mr" x1="601" y1="231" x2="753" y2="369"/>
<line class="mr" x1="624" y1="231" x2="764" y2="369"/>
<line class="mr" x1="628" y1="231" x2="768" y2="369"/>
<line class="mr" x1="632" y1="231" x2="772" y2="369"/>
<line class="mr" x1="637" y1="231" x2="776" y2="369"/>
<line class="mr" x1="643" y1="231" x2="783" y2="369"/>
<line class="mr" x1="648" y1="231" x2="795" y2="369"/>
<line class="mr" x1="651" y1="231" x2="821" y2="369"/>
<polygon class="band" points="47,409 60,409 122,548 108,548"/>
<polygon class="band" points="75,409 80,409 71,548 66,548"/>
<line class="mr" x1="242" y1="409" x2="260" y2="548"/>
<line class="mr" x1="246" y1="409" x2="263" y2="548"/>
<line class="mr" x1="250" y1="409" x2="273" y2="548"/>
<line class="mr" x1="253" y1="409" x2="275" y2="548"/>
<line class="mr" x1="458" y1="409" x2="340" y2="548"/>
<line class="mr" x1="462" y1="409" x2="344" y2="548"/>
<line class="mr" x1="466" y1="409" x2="349" y2="548"/>
<line class="mr" x1="470" y1="409" x2="354" y2="548"/>
<line class="mr" x1="511" y1="409" x2="517" y2="548"/>
<line class="mr" x1="514" y1="409" x2="522" y2="548"/>
<line class="mr" x1="518" y1="409" x2="531" y2="548"/>
<line class="mr" x1="522" y1="409" x2="536" y2="548"/>
<line class="mr" x1="526" y1="409" x2="542" y2="548"/>
<line class="mr" x1="530" y1="409" x2="549" y2="548"/>
<line class="mr" x1="548" y1="409" x2="556" y2="548"/>
<line class="mr" x1="552" y1="409" x2="562" y2="548"/>
<line class="mr" x1="560" y1="409" x2="568" y2="548"/>
<line class="mr" x1="564" y1="409" x2="574" y2="548"/>
<line class="mr" x1="569" y1="409" x2="576" y2="548"/>
<line class="mr" x1="573" y1="409" x2="580" y2="548"/>
<line class="mr" x1="579" y1="409" x2="583" y2="548"/>
<line class="mr" x1="749" y1="409" x2="877" y2="548"/>
<line class="mr" x1="752" y1="409" x2="885" y2="548"/>
<line class="mr" x1="764" y1="409" x2="947" y2="548"/>
<line class="mr" x1="768" y1="409" x2="951" y2="548"/>
<line class="mr" x1="772" y1="409" x2="955" y2="548"/>
<line class="mr" x1="777" y1="409" x2="962" y2="548"/>
<line class="bl" x1="424" y1="661" x2="358" y2="661" marker-end="url(#ah)"/>
<line class="bl" x1="463" y1="661" x2="526" y2="661" marker-end="url(#ah)"/>
<line class="bl" x1="578" y1="661" x2="658" y2="661" marker-start="url(#ah)" marker-end="url(#ah)"/>
<line class="bl" x1="868" y1="661" x2="805" y2="661" marker-end="url(#ah)"/>
<line class="bd" x1="361" y1="678" x2="416" y2="744"/>
<line class="bd" x1="424" y1="666" x2="424" y2="744"/>
<line class="bd" x1="463" y1="666" x2="463" y2="744"/>
<line class="bd" x1="520" y1="678" x2="469" y2="744"/>
<line class="bd" x1="582" y1="678" x2="606" y2="744"/>
<line class="bd" x1="647" y1="678" x2="613" y2="744"/>
<line class="bd" x1="805" y1="678" x2="831" y2="744"/>
<line class="bd" x1="865" y1="678" x2="839" y2="744"/>
<polygon class="pband" points="565,976 580,976 484,1093 467,1093"/>
<polygon class="pband" points="772,976 789,976 484,1093 470,1093"/>
</g>
</svg>
